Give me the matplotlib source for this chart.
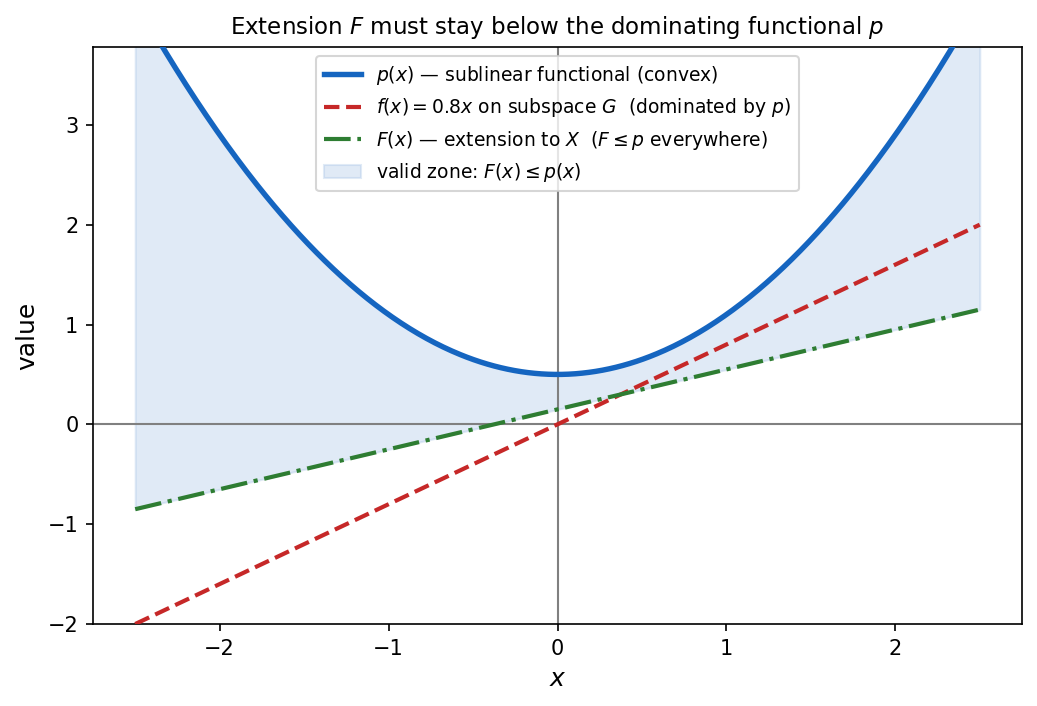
import numpy as np
import matplotlib
matplotlib.use("Agg")
import matplotlib.pyplot as plt

# Chart values
x_range = [-2.5, 2.5]
p_coeffs = [0.5, 0.0, 0.6]      # p(x) = 0.5 + 0.6 x^2
f_slope = 0.8                   # f(x) = 0.8 x
F_coeffs = [0.15, 0.4]          # F(x) = 0.15 + 0.4 x
x_ticks = [-2, -1, 0, 1, 2]
y_ticks = [-2, -1, 0, 1, 2, 3]

x = np.linspace(x_range[0], x_range[1], 500)
p = p_coeffs[0] + p_coeffs[1] * x + p_coeffs[2] * x ** 2
f = f_slope * x
F = F_coeffs[0] + F_coeffs[1] * x

fig = plt.figure(figsize=(1037 / 150, 706 / 150), dpi=150)
ax = fig.add_axes([93 / 1037, 1 - 624 / 706, (1022 - 93) / 1037, (624 - 47) / 706])

ax.axhline(0, color="gray", lw=1, zorder=1)
ax.axvline(0, color="gray", lw=1, zorder=1)
ax.plot(x, p, color="#1565c0", lw=2.6, label=r"$p(x)$ — sublinear functional (convex)", zorder=3)
ax.plot(x, f, color="#c62828", lw=2, ls="--", label=r"$f(x) = 0.8x$ on subspace $G$  (dominated by $p$)", zorder=3)
ax.plot(x, F, color="#2e7d32", lw=2, ls="-.", label=r"$F(x)$ — extension to $X$  ($F \leq p$ everywhere)", zorder=3)
ax.fill_between(x, F, p, color="#a8c4e6", alpha=0.35, label=r"valid zone: $F(x) \leq p(x)$", zorder=0)

ax.set_xlim(-2.75, 2.75)
ax.set_ylim(-2, 3.78)
ax.set_xticks(x_ticks)
ax.set_yticks(y_ticks)
ax.set_xlabel(r"$x$", fontsize=12)
ax.set_ylabel("value", fontsize=12)
ax.set_title(r"Extension $F$ must stay below the dominating functional $p$", fontsize=11)
ax.legend(loc="upper center", fontsize=9)

fig.savefig("out.png", dpi=150)
